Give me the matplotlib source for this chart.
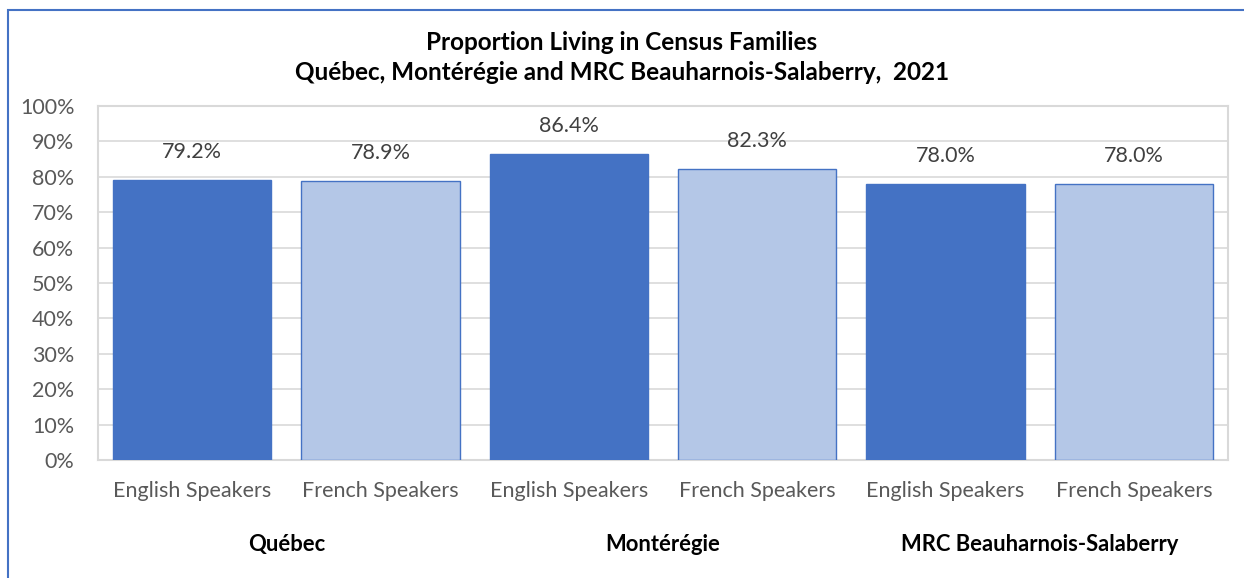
import numpy as np
import matplotlib.pyplot as plt
from matplotlib.patches import Rectangle
from matplotlib.ticker import PercentFormatter

plt.rcParams['font.family'] = ['Lato', 'DejaVu Sans']

regions = ['Québec', 'Montérégie', 'MRC Beauharnois-Salaberry']
speakers = ['English Speakers', 'French Speakers']
english = [79.2, 86.4, 78.0]
french = [78.9, 82.3, 78.0]

W, H = 1244, 578
fig = plt.figure(figsize=(W / 100, H / 100), dpi=100)

# outer chart border (top and left visible)
fig.add_artist(Rectangle((8 / W, -0.1), 1.2, 1 - 10 / H + 0.1, transform=fig.transFigure,
                         fill=False, edgecolor='#4472C4', linewidth=1.5))

ax = fig.add_axes([98 / W, 1 - 460 / H, (1228 - 98) / W, (460 - 106) / H])

vals = []
cols = []
labels = []
for e, f in zip(english, french):
    vals += [e, f]
    cols += ['#4472C4', '#B4C7E7']
    labels += speakers
x = np.arange(len(vals))
ax.bar(x, vals, width=0.84, color=cols, edgecolor='#4472C4', linewidth=1, zorder=3)
for xi, v in zip(x, vals):
    ax.annotate(f'{v:.1f}%', (xi, v), xytext=(0, 13), textcoords='offset points',
                ha='center', va='bottom', fontsize=15.5, color='#404040')

ax.set_xlim(-0.5, len(vals) - 0.5)
ax.set_ylim(0, 100)
ax.set_yticks(range(0, 101, 10))
ax.yaxis.set_major_formatter(PercentFormatter(decimals=0))
ax.set_xticks(x)
ax.set_xticklabels(labels)
ax.tick_params(axis='both', length=0, labelsize=15.5, labelcolor='#595959')
ax.tick_params(axis='x', pad=15)
ax.tick_params(axis='y', pad=17)
ax.grid(axis='y', color='#D9D9D9', linewidth=1.2, zorder=0)
for s in ax.spines.values():
    s.set_color('#D9D9D9')
    s.set_linewidth(1.5)

for i, r in enumerate(regions):
    ax.annotate(r, (2 * i + 0.5, 0), xycoords=('data', 'axes fraction'),
                xytext=(0, -61), textcoords='offset points', ha='center', va='center',
                fontsize=15.8, fontweight='bold', color='black')

fig.text(0.5, 1 - 42 / H, 'Proportion Living in Census Families', ha='center', va='center',
         fontsize=17.5, fontweight='bold')
fig.text(0.5, 1 - 72 / H, 'Québec, Montérégie and MRC Beauharnois-Salaberry,  2021', ha='center',
         va='center', fontsize=17.5, fontweight='bold')

fig.savefig('out.png', dpi=100)
